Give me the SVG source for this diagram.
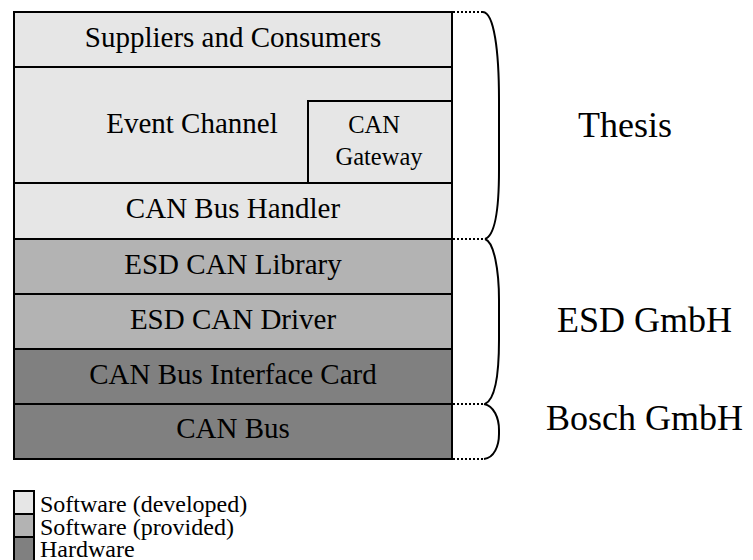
<svg xmlns="http://www.w3.org/2000/svg" width="753" height="560" viewBox="0 0 753 560">
<style>
text{font-family:"Liberation Serif","Times New Roman",serif;fill:#000}
.box{stroke:#000;stroke-width:2}
.dev{fill:#e6e6e6}
.prov{fill:#b3b3b3}
.hw{fill:#808080}
.lbl{font-size:29px;text-anchor:middle}
.small{font-size:24.5px;text-anchor:middle}
.org{font-size:36px}
.leg{font-size:24px}
.brace{fill:none;stroke:#000;stroke-width:2}
.dot{stroke:#000;stroke-width:2;stroke-dasharray:2,2}
</style>
<rect width="753" height="560" fill="#fff"/>
<g id="suppliers"><rect class="box dev" x="14" y="12" width="438" height="55"/><text class="lbl" x="233" y="47">Suppliers and Consumers</text></g>
<g id="event-channel"><rect class="box dev" x="14" y="67" width="438" height="116"/><text class="lbl" x="192" y="133">Event Channel</text></g>
<g id="can-gateway"><rect class="box dev" x="308" y="101" width="144" height="82"/><text class="small" x="374" y="133">CAN</text><text class="small" x="379" y="165">Gateway</text></g>
<g id="can-bus-handler"><rect class="box dev" x="14" y="183" width="438" height="56"/><text class="lbl" x="233" y="218">CAN Bus Handler</text></g>
<g id="esd-can-library"><rect class="box prov" x="14" y="239" width="438" height="55"/><text class="lbl" x="233" y="274">ESD CAN Library</text></g>
<g id="esd-can-driver"><rect class="box prov" x="14" y="294" width="438" height="55"/><text class="lbl" x="233" y="329">ESD CAN Driver</text></g>
<g id="can-bus-interface-card"><rect class="box hw" x="14" y="349" width="438" height="55"/><text class="lbl" x="233" y="384">CAN Bus Interface Card</text></g>
<g id="can-bus"><rect class="box hw" x="14" y="404" width="438" height="55"/><text class="lbl" x="233" y="438">CAN Bus</text></g>
<g id="connectors">
<line class="dot" x1="453" y1="12" x2="483" y2="12"/>
<line class="dot" x1="453" y1="239" x2="485" y2="239"/>
<line class="dot" x1="453" y1="404" x2="484" y2="404"/>
<line class="dot" x1="453" y1="459" x2="484" y2="459"/>
<path class="brace" d="M483,12 C494,13 499,50 499,100 L499,170 C499,215 494,236 485,239"/>
<path class="brace" d="M485,239 C494,242 499,270 499,300 L499,340 C499,380 494,400 485,404"/>
<path class="brace" d="M484,404 C494,406 499,418 499,430 L499,434 C499,446 494,458 484,459"/>
</g>
<g id="thesis"><text class="org" x="578" y="137">Thesis</text></g>
<g id="esd-gmbh"><text class="org" x="557" y="332">ESD GmbH</text></g>
<g id="bosch-gmbh"><text class="org" x="546" y="430">Bosch GmbH</text></g>
<g id="legend">
<rect class="box dev" x="14" y="491" width="20" height="23"/>
<rect class="box prov" x="14" y="514" width="20" height="23"/>
<rect class="box hw" x="14" y="537" width="20" height="24"/>
<text class="leg" x="40" y="512">Software (developed)</text>
<text class="leg" x="40" y="535">Software (provided)</text>
<text class="leg" x="40" y="557">Hardware</text>
</g>
</svg>
